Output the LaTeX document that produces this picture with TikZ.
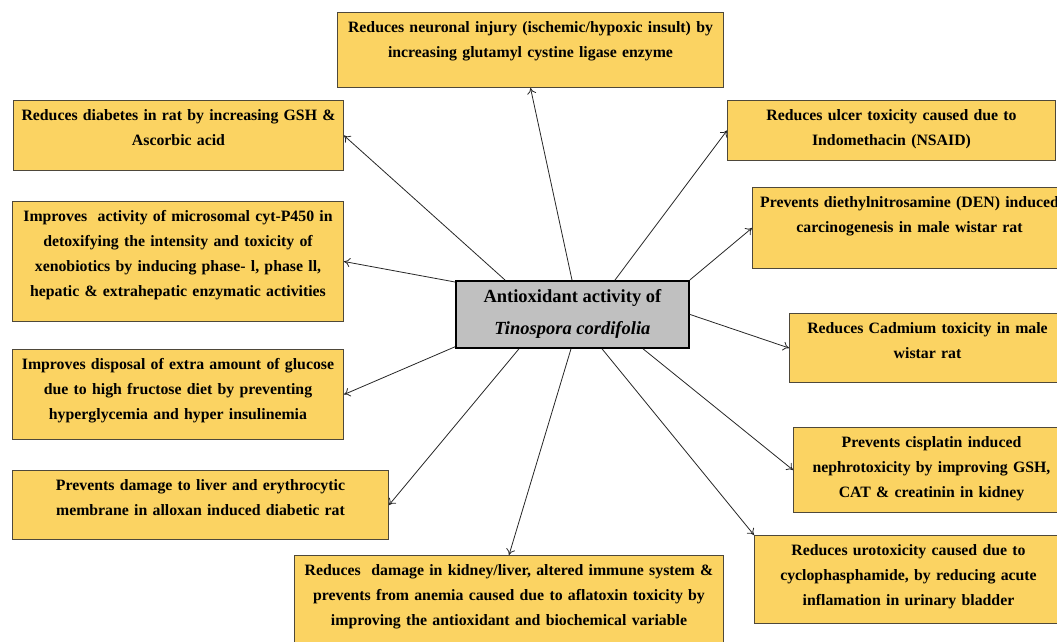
\documentclass[tikz,border=0pt]{standalone}
\usepackage{fontspec}
\setmainfont{Liberation Serif}
\usetikzlibrary{arrows.meta,positioning,calc}

\definecolor{boxfill}{RGB}{251,211,98}
\definecolor{boxline}{RGB}{78,72,58}
\definecolor{corefill}{RGB}{192,192,192}

\begin{document}
\begin{tikzpicture}[x=1pt, y=-1pt,
        every node/.style={font=\fontsize{15.8}{25}\selectfont\bfseries},
        effect/.style={draw=boxline, line width=1pt, fill=boxfill,
            anchor=north west, align=center, inner xsep=5pt,
            inner ysep=7pt, text height=13pt},
        core/.style={draw=black, line width=1.8pt, fill=corefill,
            anchor=north west, align=center, minimum width=233pt,
            minimum height=67pt,
            font=\fontsize{18.5}{32}\selectfont\bfseries},
        link/.style={draw=black!85, line width=0.8pt,
            -{To[length=6pt,width=9pt]}}]
    \useasboundingbox (0,0) rectangle (1057,642);
    \clip (0,0) rectangle (1057,642);

    % centre
    \node[core] (core) at (455,280)
        {Antioxidant activity of\\ \textit{Tinospora cordifolia}};

    % effects, clockwise from the top
    \node[effect, text width=376pt, text depth=48pt] (neuro) at (337,12)
        {Reduces neuronal injury (ischemic/hypoxic insult) by\\
         increasing glutamyl cystine ligase enzyme};
    \node[effect, text width=318pt, text depth=33pt] (ulcer) at (727,100)
        {Reduces ulcer toxicity caused due to\\ Indomethacin (NSAID)};
    \node[effect, text width=304pt, text depth=54pt] (den) at (752,187)
        {Prevents diethylnitrosamine (DEN) induced\\
         carcinogenesis in male wistar rat};
    \node[effect, text width=266pt, text depth=42pt] (cad) at (789,313)
        {Reduces Cadmium toxicity in male\\ wistar rat};
    \node[effect, text width=266pt, text depth=58pt] (cis) at (793,427)
        {Prevents cisplatin induced\\ nephrotoxicity by improving GSH,\\
         CAT \& creatinin in kidney};
    \node[effect, text width=298pt, text depth=61pt] (uro) at (754,535)
        {Reduces urotoxicity caused due to\\
         cyclophasphamide, by reducing acute\\
         inflamation in urinary bladder};
    \node[effect, text width=419pt, text depth=73pt] (afla) at (294,555)
        {Reduces\ \ damage in kidney/liver, altered immune system \&\\
         prevents from anemia caused due to aflatoxin toxicity by\\
         improving the antioxidant and biochemical variable};
    \node[effect, text width=366pt, text depth=42pt] (liver) at (12,470)
        {Prevents damage to liver and erythrocytic\\
         membrane in alloxan induced diabetic rat};
    \node[effect, text width=321pt, text depth=63pt] (gluc) at (12,349)
        {Improves disposal of extra amount of glucose\\
         due to high fructose diet by preventing\\
         hyperglycemia and hyper insulinemia};
    \node[effect, text width=321pt, text depth=93pt] (micro) at (12,201)
        {Improves\ \ activity of microsomal cyt-P450 in\\
         detoxifying the intensity and toxicity of\\
         xenobiotics by inducing phase- l, phase ll,\\
         hepatic \& extrahepatic enzymatic activities};
    \node[effect, text width=320pt, text depth=43pt] (diab) at (13,100)
        {Reduces diabetes in rat by increasing GSH \&\\ Ascorbic acid};

    % links
    \draw[link] ($(core.north west)+(117,0)$) -- (neuro.south);
    \draw[link] ($(core.north west)+(160,0)$) -- (ulcer.west);
    \draw[link] (core.north east) -- (den.west);
    \draw[link] (core.east) -- (cad.west);
    \draw[link] ($(core.south west)+(188,0)$) -- (cis.west);
    \draw[link] ($(core.south west)+(147,0)$) -- (uro.north west);
    \draw[link] ($(core.south west)+(116,0)$) -- (afla.north);
    \draw[link] ($(core.south west)+(64,0)$) -- (liver.east);
    \draw[link] ($(core.south west)+(0,-2)$) -- (gluc.east);
    \draw[link] ($(core.north west)+(0,2)$) -- (micro.east);
    \draw[link] ($(core.north west)+(50,0)$) -- (diab.east);
\end{tikzpicture}
\end{document}
